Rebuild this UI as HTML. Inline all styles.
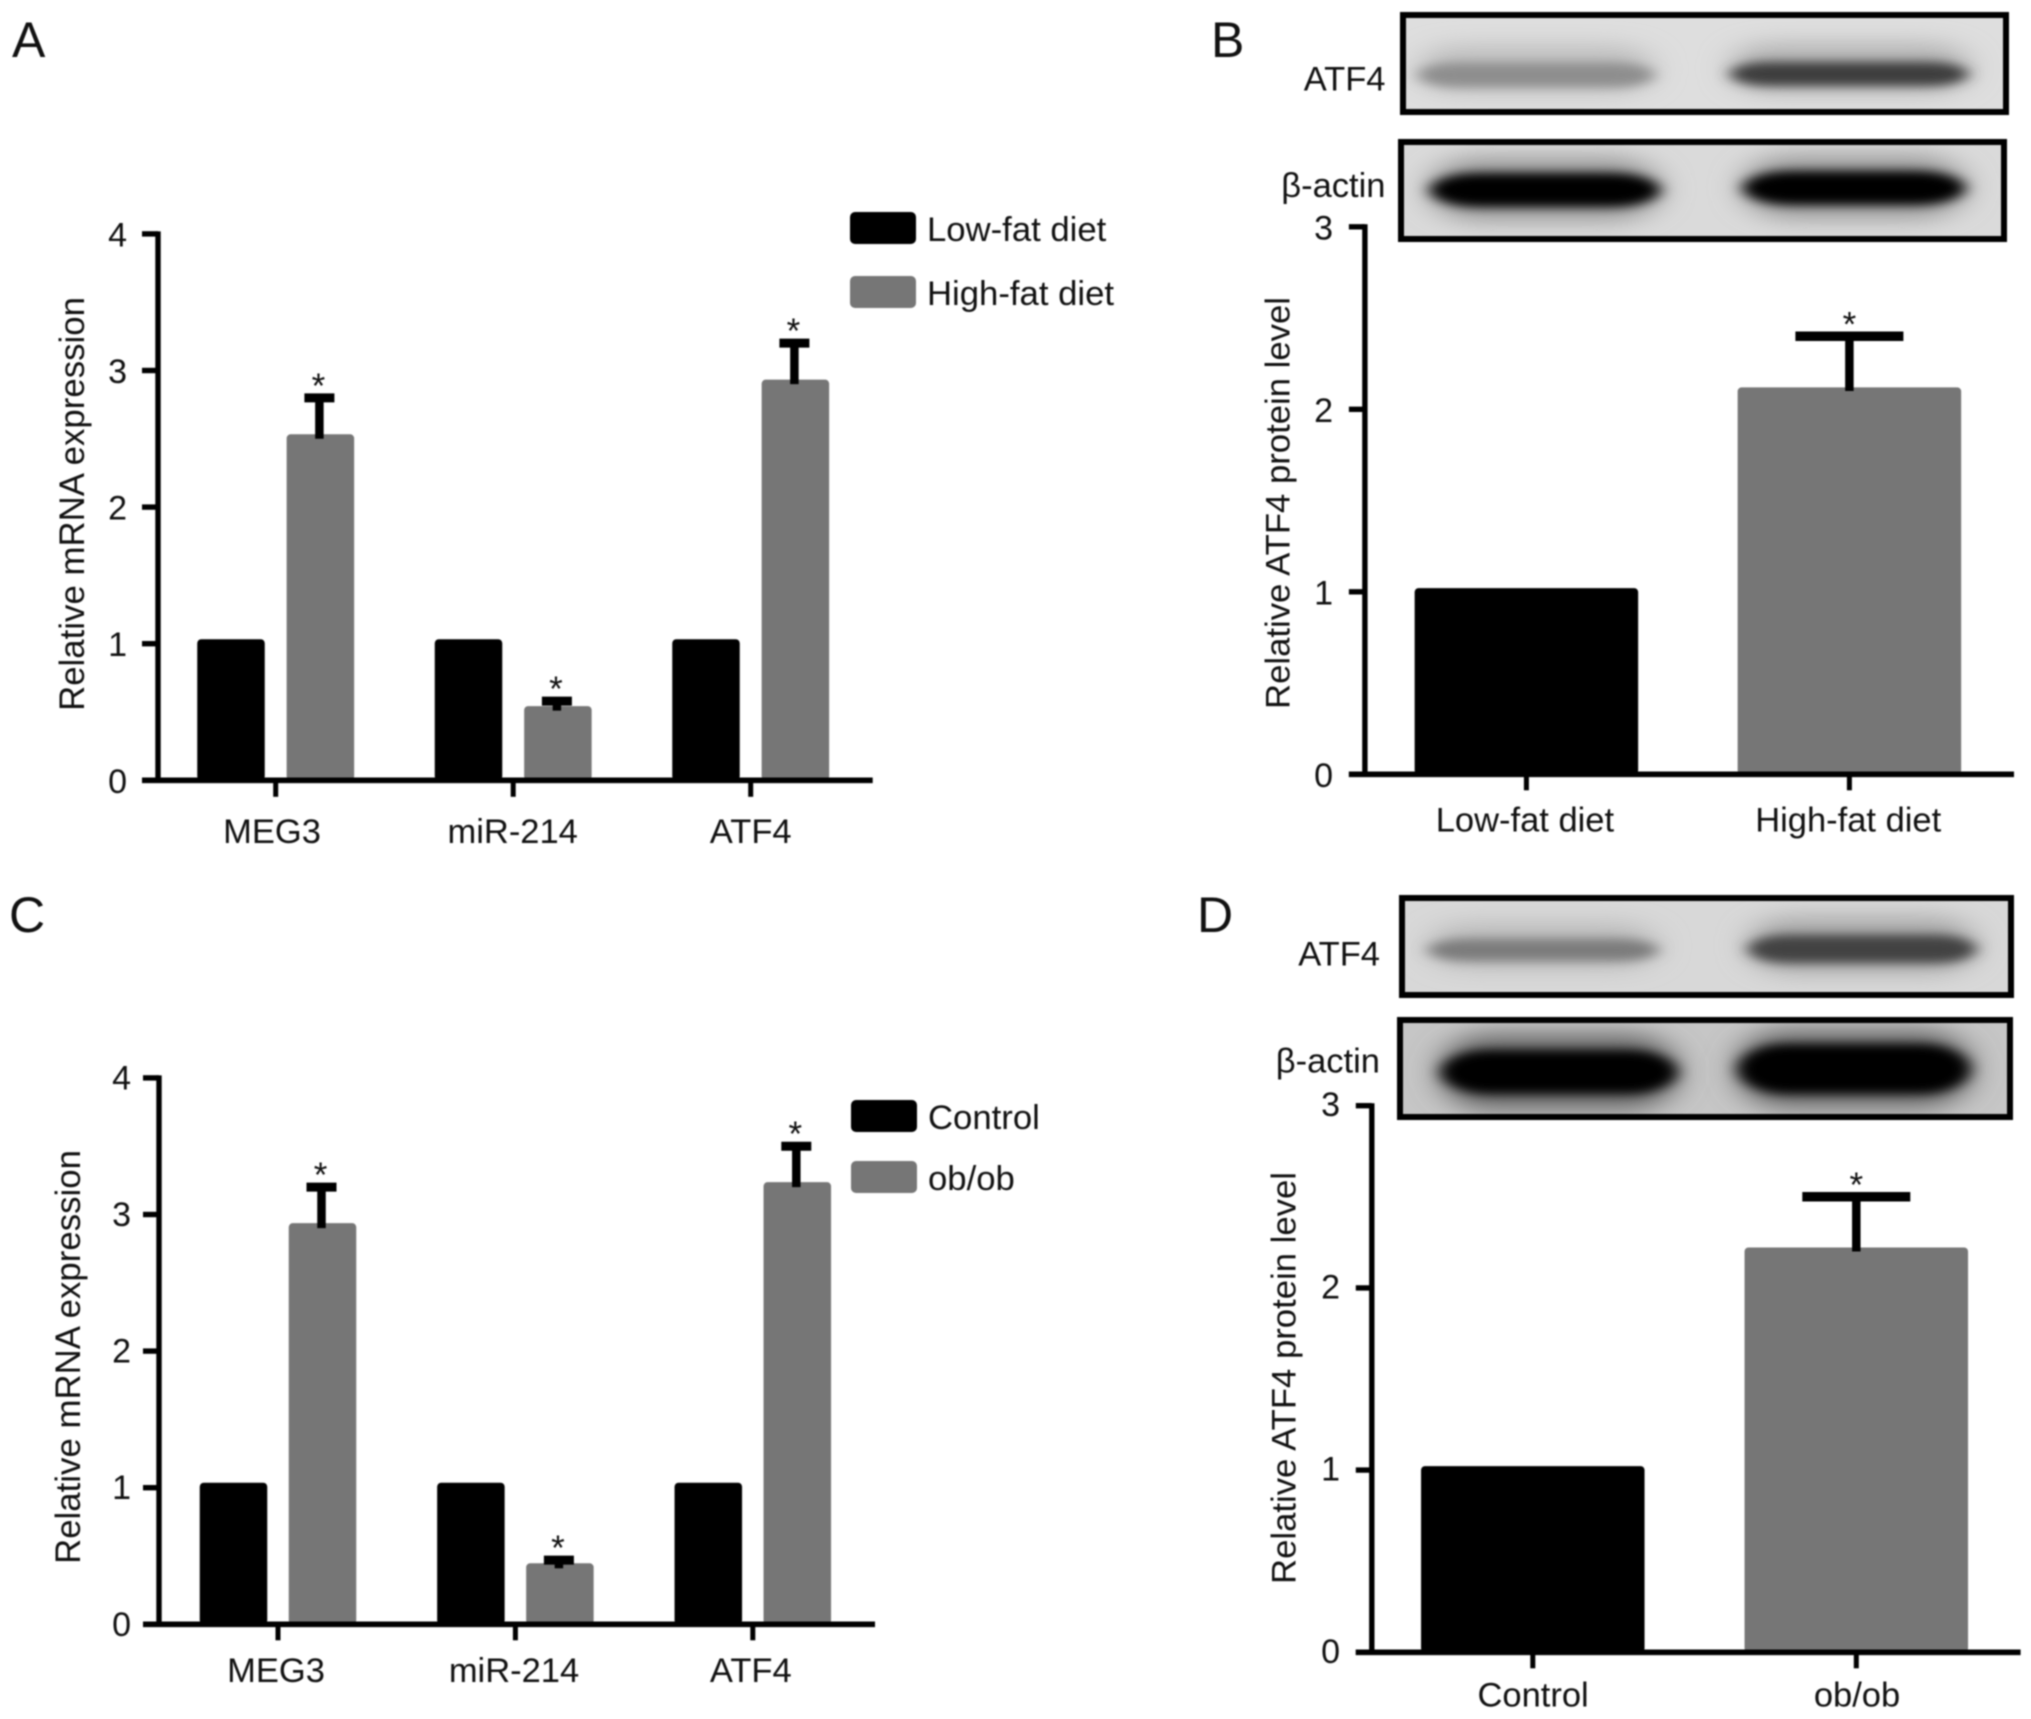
<!DOCTYPE html>
<html lang="en">
<head>
<meta charset="utf-8">
<title>Relative mRNA and ATF4 protein expression</title>
<style>
html,body{margin:0;padding:0;background:#fff;}
#figure{display:block;width:2031px;height:1719px;filter:blur(0.7px);}
text{font-family:"Liberation Sans",Arial,sans-serif;fill:#111;}
</style>
</head>
<body>
<svg id="figure" xmlns="http://www.w3.org/2000/svg" width="2031" height="1719" viewBox="0 0 2031 1719">
  <defs>
    <filter id="blur-core" x="-15%" y="-100%" width="130%" height="300%"><feGaussianBlur stdDeviation="8 5"/></filter>
    <filter id="blur-halo" x="-25%" y="-150%" width="150%" height="400%"><feGaussianBlur stdDeviation="16 11"/></filter>
    <clipPath id="clip-b-atf4"><rect x="1403" y="15" width="603" height="97"/></clipPath>
    <clipPath id="clip-b-actin"><rect x="1401" y="142" width="603" height="97"/></clipPath>
    <clipPath id="clip-d-atf4"><rect x="1402" y="898" width="609" height="97"/></clipPath>
    <clipPath id="clip-d-actin"><rect x="1400" y="1020" width="610" height="97"/></clipPath>
  </defs>

  <g>
    <g>
      <g clip-path="url(#clip-b-atf4)">
        <rect x="1403" y="15" width="603" height="97" fill="#dedede"/>
        <rect x="1420" y="46" width="232" height="46" rx="40" ry="20" fill="#bcbcbc" filter="url(#blur-halo)"/>
        <rect x="1418" y="63" width="236" height="24" rx="40" ry="12" fill="#8e8e8e" filter="url(#blur-core)"/>
        <rect x="1732" y="44" width="236" height="48" rx="40" ry="20" fill="#b0b0b0" filter="url(#blur-halo)"/>
        <rect x="1730" y="62" width="238" height="24" rx="40" ry="12" fill="#3e3e3e" filter="url(#blur-core)"/>
      </g>
      <rect x="1403" y="15" width="603" height="97" fill="none" stroke="#000" stroke-width="6"/>
    </g>
    <g>
      <g clip-path="url(#clip-b-actin)">
        <rect x="1401" y="142" width="603" height="97" fill="#dadada"/>
        <rect x="1430" y="158" width="230" height="62" rx="50" ry="28" fill="#949494" filter="url(#blur-halo)"/>
        <rect x="1430" y="173" width="230" height="34" rx="50" ry="17" fill="#000" filter="url(#blur-core)"/>
        <rect x="1743" y="156" width="222" height="62" rx="50" ry="28" fill="#949494" filter="url(#blur-halo)"/>
        <rect x="1743" y="171" width="222" height="34" rx="50" ry="17" fill="#000" filter="url(#blur-core)"/>
      </g>
      <rect x="1401" y="142" width="603" height="97" fill="none" stroke="#000" stroke-width="6"/>
    </g>
    <text x="1385.5" y="90.5" font-size="34.5" text-anchor="end">ATF4</text>
    <text x="1385.5" y="197" font-size="34.5" text-anchor="end">β-actin</text>
  </g>

  <g>
    <g>
      <g clip-path="url(#clip-d-atf4)">
        <rect x="1402" y="898" width="609" height="97" fill="#d8d8d8"/>
        <rect x="1430" y="924" width="226" height="44" rx="40" ry="20" fill="#b8b8b8" filter="url(#blur-halo)"/>
        <rect x="1428" y="939" width="230" height="22" rx="40" ry="11" fill="#7c7c7c" filter="url(#blur-core)"/>
        <rect x="1750" y="918" width="224" height="54" rx="40" ry="24" fill="#a4a4a4" filter="url(#blur-halo)"/>
        <rect x="1748" y="935" width="228" height="28" rx="40" ry="14" fill="#424242" filter="url(#blur-core)"/>
      </g>
      <rect x="1402" y="898" width="609" height="97" fill="none" stroke="#000" stroke-width="6"/>
    </g>
    <g>
      <g clip-path="url(#clip-d-actin)">
        <rect x="1400" y="1020" width="610" height="97" fill="#c6c6c6"/>
        <rect x="1440" y="1034" width="238" height="76" rx="50" ry="34" fill="#686868" filter="url(#blur-halo)"/>
        <rect x="1441" y="1050" width="236" height="44" rx="50" ry="22" fill="#000" filter="url(#blur-core)"/>
        <rect x="1737" y="1030" width="234" height="78" rx="50" ry="34" fill="#686868" filter="url(#blur-halo)"/>
        <rect x="1738" y="1044" width="232" height="50" rx="50" ry="25" fill="#000" filter="url(#blur-core)"/>
      </g>
      <rect x="1400" y="1020" width="610" height="97" fill="none" stroke="#000" stroke-width="6"/>
    </g>
    <text x="1380" y="965.5" font-size="34.5" text-anchor="end">ATF4</text>
    <text x="1380" y="1072.5" font-size="34.5" text-anchor="end">β-actin</text>
  </g>

  <text x="12" y="57" font-size="50">A</text>
  <text x="1211" y="57" font-size="50">B</text>
  <text x="9" y="932" font-size="50">C</text>
  <text x="1197" y="932" font-size="50">D</text>

  <g id="charts"></g>
</svg>

<script>
// Panel A
const panelACategories = ['MEG3', 'miR-214', 'ATF4'];
const panelALowFat = [1, 1, 1];
const panelAHighFat = [2.5, 0.51, 2.9];
const panelAHighFatErrorTop = [2.8, 0.58, 3.2];
const panelATicks = [0, 1, 2, 3, 4];

// Panel B
const panelBCategories = ['Low-fat diet', 'High-fat diet'];
const panelBValues = [1, 2.1];
const panelBErrorTop = [null, 2.4];
const panelBTicks = [0, 1, 2, 3];

// Panel C
const panelCCategories = ['MEG3', 'miR-214', 'ATF4'];
const panelCControl = [1, 1, 1];
const panelCObOb = [2.9, 0.41, 3.2];
const panelCObObErrorTop = [3.2, 0.47, 3.5];
const panelCTicks = [0, 1, 2, 3, 4];

// Panel D
const panelDCategories = ['Control', 'ob/ob'];
const panelDValues = [1, 2.2];
const panelDErrorTop = [null, 2.5];
const panelDTicks = [0, 1, 2, 3];

const BLACK = '#000000';
const GRAY = '#767676';
const SVG_NS = 'http://www.w3.org/2000/svg';
const root = document.getElementById('charts');

function shape(parent, tag, name, props, content) {
  const el = document.createElementNS(SVG_NS, tag);
  
  
  for (const key in props) {
    el.setAttribute(key, props[key]);
  }
  if (content !== undefined) {
    el.textContent = content;
  }
  parent.appendChild(el);
  return el;
}

function drawFrame(g, p, ticks, categories) {
  const yScale = v => p.y0 - v * p.unit;
  const xScale = i => p.x0 + i * p.step;
  const top = yScale(ticks[ticks.length - 1]);
  shape(g, 'line', 'y-axis', {x1: p.axisX, x2: p.axisX, y1: top - 2.5, y2: p.y0 + 2.5, stroke: '#000', 'stroke-width': 5.4});
  shape(g, 'line', 'x-axis', {x1: p.axisX - p.tickLen, x2: p.axisRight, y1: p.y0, y2: p.y0, stroke: '#000', 'stroke-width': 5.6});
  ticks.forEach(t => {
    shape(g, 'line', 'y-tick', {x1: p.axisX - p.tickLen, x2: p.axisX, y1: yScale(t), y2: yScale(t), stroke: '#000', 'stroke-width': 5.4});
    shape(g, 'text', 'y-tick-label', {x: p.tickLabelX, y: yScale(t) + p.tickLabelDy, 'font-size': 34, 'text-anchor': 'end'}, String(t));
  });
  categories.forEach((c, i) => {
    shape(g, 'line', 'x-tick', {x1: xScale(i), x2: xScale(i), y1: p.y0, y2: p.y0 + p.tickDown, stroke: '#000', 'stroke-width': 5});
    shape(g, 'text', 'x-tick-label', {x: xScale(i) + p.labelShift[i], y: p.labelY, 'font-size': 34.5, 'text-anchor': 'middle'}, c);
  });
  shape(g, 'text', 'y-axis-title', {
    x: 0, y: 0, 'font-size': p.titleSize, 'text-anchor': 'middle',
    transform: 'translate(' + p.titleX + ',' + p.titleY + ') rotate(-90)'
  }, p.title);
}

function drawBar(g, p, cx, value, color, name) {
  const top = p.y0 - value * p.unit - p.barPad;
  shape(g, 'rect', name, {x: cx - p.barW / 2, y: top, width: p.barW, height: p.y0 - top, rx: 4, fill: color});
}

function drawError(g, p, cx, value, errorTop) {
  const barTop = p.y0 - value * p.unit;
  const capY = p.y0 - errorTop * p.unit;
  const x = cx + p.errShift;
  shape(g, 'line', 'error-bar-stem', {x1: x, x2: x, y1: barTop, y2: capY, stroke: '#000', 'stroke-width': 8.5});
  shape(g, 'line', 'error-bar-cap', {x1: x - p.capHalf, x2: x + p.capHalf, y1: capY, y2: capY, stroke: '#000', 'stroke-width': p.capThick});
  shape(g, 'text', 'significance-star', {x: x + p.starShift, y: capY, 'font-size': 35, 'text-anchor': 'middle'}, '*');
}

function drawGrouped(name, p, categories, ticks, first, second, errorTop, legend) {
  const g = shape(root, 'g', name, {});
  categories.forEach((c, i) => {
    const center = p.x0 + i * p.step;
    drawBar(g, p, center - p.barOffset, first[i], BLACK, 'bar-' + legend[0].toLowerCase().replace(/[^a-z]+/g, '-') + '-' + c.toLowerCase());
    drawBar(g, p, center + p.barOffset, second[i], GRAY, 'bar-' + legend[1].toLowerCase().replace(/[^a-z]+/g, '-') + '-' + c.toLowerCase());
    drawError(g, p, center + p.barOffset, second[i], errorTop[i]);
  });
  drawFrame(g, p, ticks, categories);
  legend.forEach((text, i) => {
    const item = shape(g, 'g', 'legend-entry', {});
    shape(item, 'rect', 'legend-swatch', {x: p.legendX, y: p.legendY[i] - 16, width: 66, height: 32, rx: 5, fill: i === 0 ? BLACK : GRAY});
    shape(item, 'text', 'legend-label', {x: p.legendX + 77, y: p.legendY[i] + 13, 'font-size': 34.7}, text);
  });
}

function drawSingle(name, p, categories, ticks, values, errorTop) {
  const g = shape(root, 'g', name, {});
  categories.forEach((c, i) => {
    const center = p.x0 + i * p.step;
    drawBar(g, p, center, values[i], i === 0 ? BLACK : GRAY, 'bar-' + c.toLowerCase().replace(/[^a-z]+/g, '-'));
    if (errorTop[i] !== null) {
      drawError(g, p, center, values[i], errorTop[i]);
    }
  });
  drawFrame(g, p, ticks, categories);
}

drawGrouped('panel-a-chart', {
  axisX: 158, axisRight: 872.7, y0: 780.3, unit: 136.6, barPad: 4.5, tickLen: 16, tickDown: 16.5,
  tickLabelX: 127, tickLabelDy: 12.5,
  x0: 275.7, step: 237.5, barW: 67.5, barOffset: 44.7, errShift: -1, starShift: -1, capHalf: 15, capThick: 9,
  labelY: 843, labelShift: [-3.7, -0.5, 0],
  title: 'Relative mRNA expression', titleSize: 34.8, titleX: 84, titleY: 504,
  legendX: 850, legendY: [228, 292]
}, panelACategories, panelATicks, panelALowFat, panelAHighFat, panelAHighFatErrorTop, ['Low-fat diet', 'High-fat diet']);

drawSingle('panel-b-chart', {
  axisX: 1364.9, axisRight: 2014, y0: 774.3, unit: 182.5, barPad: 3.7, tickLen: 16, tickDown: 16,
  tickLabelX: 1333, tickLabelDy: 12.7,
  x0: 1526.4, step: 323, barW: 223.5, errShift: 0, starShift: 0, capHalf: 54, capThick: 9.5,
  labelY: 831.7, labelShift: [-1.5, -1.2],
  title: 'Relative ATF4 protein level', titleSize: 34.7, titleX: 1289.5, titleY: 503
}, panelBCategories, panelBTicks, panelBValues, panelBErrorTop);

drawGrouped('panel-c-chart', {
  axisX: 159, axisRight: 875, y0: 1624.3, unit: 136.6, barPad: 5, tickLen: 16, tickDown: 16,
  tickLabelX: 131, tickLabelDy: 11.5,
  x0: 278, step: 237.4, barW: 67.5, barOffset: 44.5, errShift: -1, starShift: -1, capHalf: 15, capThick: 9,
  labelY: 1682, labelShift: [-2, -1.4, -2],
  title: 'Relative mRNA expression', titleSize: 34.8, titleX: 80, titleY: 1357,
  legendX: 851, legendY: [1116, 1177]
}, panelCCategories, panelCTicks, panelCControl, panelCObOb, panelCObObErrorTop, ['Control', 'ob/ob']);

drawSingle('panel-d-chart', {
  axisX: 1371.8, axisRight: 2020.6, y0: 1652.3, unit: 182.2, barPad: 4, tickLen: 16, tickDown: 16,
  tickLabelX: 1340, tickLabelDy: 10.5,
  x0: 1532.8, step: 323.5, barW: 223.5, errShift: 0, starShift: 0, capHalf: 54, capThick: 9.5,
  labelY: 1706.3, labelShift: [0.3, 0.7],
  title: 'Relative ATF4 protein level', titleSize: 34.7, titleX: 1295.5, titleY: 1378
}, panelDCategories, panelDTicks, panelDValues, panelDErrorTop);
</script>
</body>
</html>
